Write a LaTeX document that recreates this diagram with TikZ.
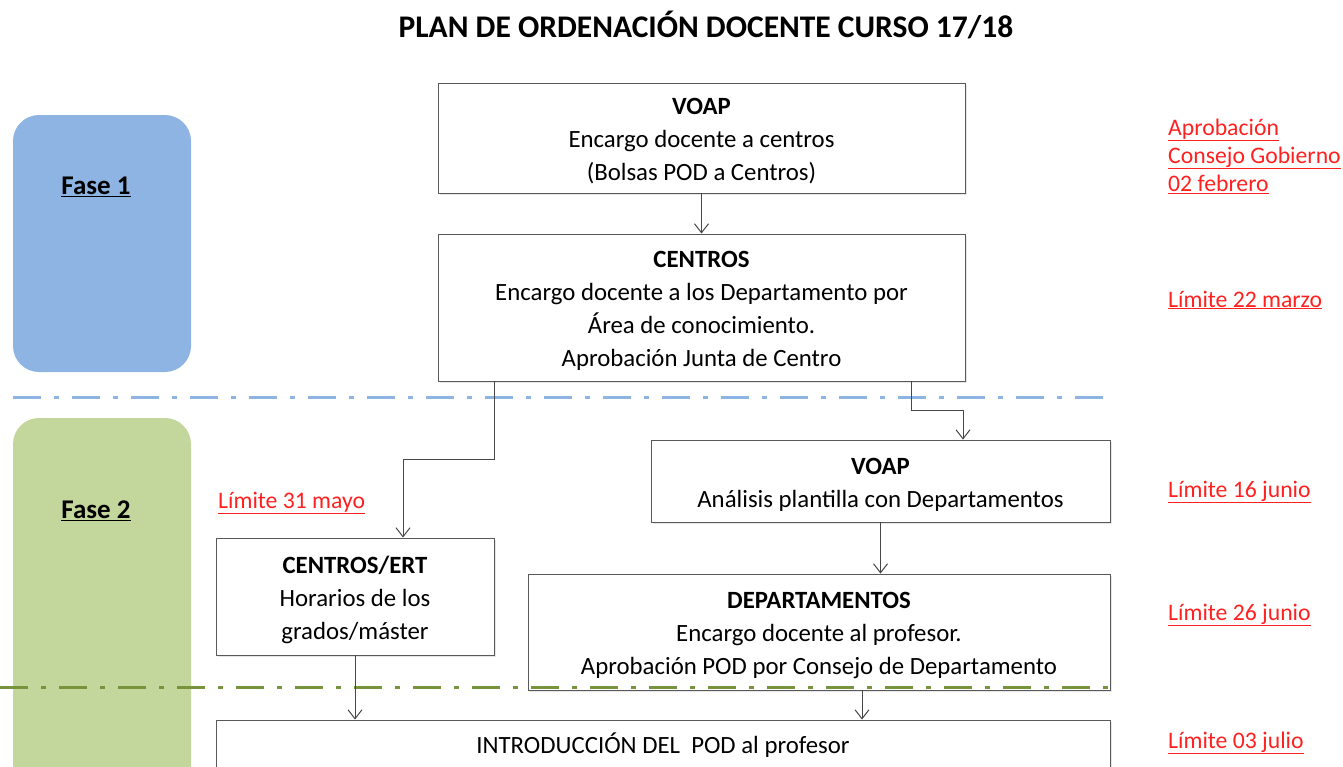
\documentclass[tikz,border=0pt]{standalone}
\usepackage{fontspec}
\setmainfont{Carlito}
\usetikzlibrary{arrows.meta,shadows}

\definecolor{faseblue}{HTML}{8EB4E3}
\definecolor{fasegreen}{HTML}{C3D69B}
\definecolor{lineblue}{HTML}{8EB4E3}
\definecolor{linegreen}{HTML}{77933C}
\definecolor{limitred}{HTML}{FF2020}

\tikzset{
  box/.style={draw=black!65, line width=0.9pt, fill=white, align=center,
    inner sep=0pt, font=\fontsize{24.8}{33}\selectfont,
    drop shadow={shadow xshift=1.5pt, shadow yshift=-1.5pt, opacity=0.2}},
  boxtext/.style={align=center, inner sep=0pt, yshift=-3.5pt,
    font=\fontsize{24.8}{33}\selectfont},
  fasebox/.style={rounded corners=26pt, inner sep=0pt},
  faselabel/.style={font=\fontsize{27}{30}\selectfont\bfseries},
  limit/.style={text=limitred, anchor=west, align=left, inner sep=0pt,
    font=\fontsize{23.7}{28}\selectfont},
  link/.style={draw=black!72, line width=1pt,
    -{Straight Barb[length=9pt,width=14pt]}},
  phaseline/.style={line width=3pt, dash pattern=on 28pt off 13pt on 5pt off 13pt}
}

\begin{document}
\begin{tikzpicture}[x=1pt,y=-1pt]
  \useasboundingbox (0,0) rectangle (1343,766);

  \node (title) at (706,25) {\fontsize{31.5}{34}\selectfont\bfseries PLAN DE ORDENACIÓN DOCENTE CURSO 17/18};

  % fases
  \fill[faseblue, fasebox] (13,115) rectangle (191,372);
  \fill[fasegreen, fasebox] (13,418) rectangle (191,800);
  \node[faselabel] (fase1) at (96,187) {\underline{Fase 1}};
  \node[faselabel] (fase2) at (96,511) {\underline{Fase 2}};

  % separadores
  \draw[phaseline, lineblue] (13,397) -- (1110,397);

  % cajas
  \node[box, minimum width=527pt, minimum height=110pt,
    label={[boxtext]center:{\textbf{VOAP}\\Encargo docente a centros\\(Bolsas POD a Centros)}}]
    (voap) at (701.5,138) {};
  \node[box, minimum width=527pt, minimum height=147pt,
    label={[boxtext]center:{\textbf{CENTROS}\\Encargo docente a los Departamento por\\Área de conocimiento.\\Aprobación Junta de Centro}}]
    (centros) at (701.5,307.5) {};
  \node[box, minimum width=459pt, minimum height=82pt,
    label={[boxtext]center:{\textbf{VOAP}\\Análisis plantilla con Departamentos}}]
    (voapdep) at (880.5,481) {};
  \node[box, minimum width=278pt, minimum height=117pt,
    label={[boxtext]center:{\textbf{CENTROS/ERT}\\Horarios de los\\grados/máster}}]
    (ert) at (355,596.5) {};
  \node[box, minimum width=582pt, minimum height=116pt,
    label={[boxtext]center:{\textbf{DEPARTAMENTOS}\\Encargo docente al profesor.\\Aprobación POD por Consejo de Departamento}}]
    (depart) at (819,632) {};
  \node[box, minimum width=894pt, minimum height=50pt] (intro) at (663,745)
    {INTRODUCCIÓN DEL\ \ POD al profesor};

  \draw[phaseline, linegreen] (0,687) -- (1110,687);

  % flechas
  \draw[link] (voap.south) -- (centros.north);
  \draw[link] ([xshift=-207.5pt]centros.south) -- ++(0,78) -| ([xshift=48pt]ert.north);
  \draw[link] ([xshift=209.5pt]centros.south) -- ++(0,29) -| ([xshift=82.5pt]voapdep.north);
  \draw[link] (voapdep.south) -- (voapdep.south |- depart.north);
  \draw[link] (ert.south) -- (ert.south |- intro.north);
  \draw[link] ([xshift=43pt]depart.south) -- ([xshift=43pt]depart.south |- intro.north);

  % plazos
  \node[limit] (aprob) at (1168,156) {\underline{Aprobación}\\\underline{Consejo Gobierno}\\\underline{02 febrero}};
  \node[limit] (marzo) at (1168,300) {\underline{Límite 22 marzo}};
  \node[limit] (mayo) at (218,503) {\underline{Límite 31 mayo}};
  \node[limit] (junio16) at (1168,492) {\underline{Límite 16 junio}};
  \node[limit] (junio26) at (1168,615) {\underline{Límite 26 junio}};
  \node[limit] (julio) at (1168,743) {\underline{Límite 03 julio}};
\end{tikzpicture}
\end{document}
